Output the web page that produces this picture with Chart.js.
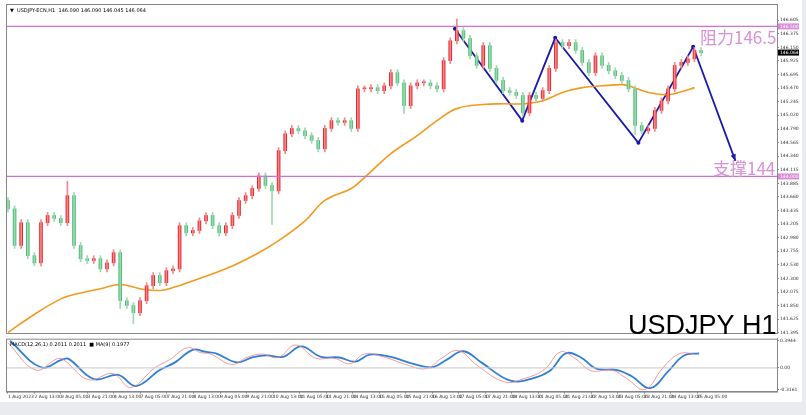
<!DOCTYPE html>
<html><head><meta charset="utf-8">
<script src="https://cdn.jsdelivr.net/npm/chart.js@4.4.0/dist/chart.umd.min.js"></script>
<style>
body{margin:0;background:#e9ebef;width:806px;height:415px;overflow:hidden;font-family:"DejaVu Sans",sans-serif}
#wrap{position:absolute;left:0;top:0;width:802px;height:402px;background:#fff}
canvas{position:absolute;left:0}
</style></head><body>
<div id="wrap">
<canvas id="main" style="top:0px" width="802" height="337"></canvas>
<canvas id="macd" style="top:335px" width="802" height="66"></canvas>
</div>
<script>
// 4-hour closes
const closes=[143.46,142.85,143.23,142.68,142.56,143.23,143.35,143.30,143.23,143.68,142.85,142.63,142.60,142.63,142.46,142.56,142.73,141.93,141.85,141.73,141.93,142.18,142.35,142.23,142.43,142.46,143.18,143.06,143.10,143.26,143.35,143.18,143.06,143.18,143.35,143.60,143.68,143.80,144.01,143.85,143.76,144.43,144.71,144.80,144.76,144.68,144.60,144.46,144.80,144.93,144.90,144.93,144.80,145.46,145.46,145.48,145.43,145.51,145.73,145.56,145.18,145.51,145.56,145.56,145.51,145.46,145.93,146.26,146.43,146.30,146.01,145.85,146.18,145.80,145.60,145.43,145.40,145.35,145.06,145.35,145.30,145.43,145.80,146.23,146.18,146.23,146.10,145.90,145.73,146.01,145.85,145.76,145.68,145.60,145.46,144.85,144.76,144.80,145.10,145.26,145.46,145.85,145.90,145.96,146.10,146.06];
const firstOpen=143.60;
const wickSpikes={9:[143.92,null],19:[null,141.55],40:[null,143.20],68:[146.62,null],17:[null,141.80],60:[null,145.05],95:[null,144.70]};
const maIdx=[0,3,8,11,14,17,20,23,25,29,34,38,41,45,48,52,54,58,62,65,68,72,75,78,81,84,87,90,93,94,97,100,102,104];
const maVal=[141.40,141.63,141.96,142.06,142.13,142.20,142.13,142.10,142.15,142.30,142.51,142.73,142.93,143.26,143.60,143.80,143.98,144.38,144.68,144.93,145.13,145.20,145.21,145.21,145.26,145.40,145.48,145.51,145.53,145.51,145.40,145.36,145.41,145.48];
const zigIdx=[67.7,77.9,82.9,95.5,103.8,110.2];
const zigVal=[146.46,144.93,146.31,144.56,146.16,144.26];
const resistance=146.5, support=144.0, lastPrice=146.064;
const yTicks=[146.605,146.375,146.150,145.925,145.695,145.470,145.245,145.020,144.790,144.565,144.340,144.115,143.885,143.660,143.435,143.205,142.980,142.755,142.530,142.300,142.075,141.850,141.625,141.395];
const xLabels=["1 Aug 2023","2 Aug 13:00","3 Aug 05:00","3 Aug 21:00","4 Aug 13:00","7 Aug 05:00","7 Aug 21:00","8 Aug 13:00","9 Aug 05:00","9 Aug 21:00","10 Aug 13:00","11 Aug 05:00","11 Aug 21:00","14 Aug 13:00","15 Aug 05:00","15 Aug 21:00","16 Aug 13:00","17 Aug 05:00","17 Aug 21:00","18 Aug 13:00","21 Aug 05:00","21 Aug 21:00","22 Aug 13:00","23 Aug 05:00","23 Aug 21:00","24 Aug 13:00","25 Aug 05:00"];
const macdIdx=[0.3,5,8.2,9.2,13,16.7,19.4,23,25.3,28,30,31.5,34.7,37,39.2,41.7,44.4,47.4,50.2,52.6,54.8,58,61,64.2,66.5,69,71.7,76,79.1,82.1,84.5,86.8,89.1,92.3,94.5,97.3,100,102.4,104.7];
const macdBlue=[.39,.01,.12,.13,-.16,-.10,-.26,-.03,.08,.26,.23,.21,.08,.15,.18,.16,.31,.16,.15,.09,.19,.16,.07,.01,.12,.24,.08,-.18,-.16,-.04,.21,.15,-.01,-.03,-.12,-.29,-.05,.18,.21];
const macdRed=[.36,-.03,.13,.12,-.17,-.08,-.28,0,.12,.29,.22,.2,.05,.15,.2,.15,.33,.14,.14,.06,.2,.15,.05,-.01,.14,.25,.05,-.2,-.15,-.02,.23,.13,-.04,-.03,-.15,-.31,0,.2,.21];

const XMIN=-0.3, XMAX=116.5;
const bodies=[], wicks=[];
closes.forEach((c,i)=>{
  const o=i?closes[i-1]:firstOpen;
  let hi=Math.max(o,c)+0.05, lo=Math.min(o,c)-0.05;
  const s=wickSpikes[i]; if(s){ if(s[0]!=null)hi=s[0]; if(s[1]!=null)lo=s[1]; }
  bodies.push({x:i,y:[o,c],up:c>=o});
  wicks.push({x:i,y:[lo,hi],up:c>=o});
});
const pink='#d98ad9';
const lineDs=(v)=>({type:'line',data:[{x:XMIN,y:v},{x:XMAX,y:v}],borderColor:'#d070d0',borderWidth:1.2,pointRadius:0});
const fit=w=>function(s){s.width=w;};

const overlay={id:'ov',afterDraw(ch){
  const c=ch.ctx,y=ch.scales.y,a=ch.chartArea;
  c.save();
  c.strokeStyle='#888';c.lineWidth=1;c.strokeRect(a.left+0.5,a.top+0.5,a.right-a.left,a.bottom-a.top);
  const box=(v,bg,fg)=>{const py=y.getPixelForValue(v);c.fillStyle=bg;c.fillRect(a.right+1,py-3,21,6);c.fillStyle=fg;c.font='4.5px DejaVu Sans';c.textBaseline='middle';c.fillText(v.toFixed(3),a.right+3,py);};
  box(resistance,pink,'#fff');box(support,pink,'#fff');box(lastPrice,'#000','#fff');
  c.fillStyle='#d890d8';c.font='17px "Noto Sans CJK SC"';c.textBaseline='alphabetic';
  c.fillText('阻力146.5',700,44);c.fillText('支撑144',713,175);
  c.fillStyle='#000';c.font='27px "Liberation Sans"';c.fillText('USDJPY H1',628,334);
  c.font='5px DejaVu Sans';c.fillStyle='#000';c.fillText('▼  USDJPY-ECN,H1  146.090 146.090 146.045 146.064',10,12);
  const x=ch.scales.x;const n=zigIdx.length;
  const x1=x.getPixelForValue(zigIdx[n-2]),y1=y.getPixelForValue(zigVal[n-2]),x2=x.getPixelForValue(zigIdx[n-1]),y2=y.getPixelForValue(zigVal[n-1]);
  const ang=Math.atan2(y2-y1,x2-x1);c.fillStyle='#1a1aa8';c.beginPath();c.moveTo(x2,y2);
  c.lineTo(x2-7*Math.cos(ang-0.4),y2-7*Math.sin(ang-0.4));c.lineTo(x2-7*Math.cos(ang+0.4),y2-7*Math.sin(ang+0.4));c.fill();
  c.restore();
}};

new Chart(document.getElementById('main'),{
  data:{datasets:[
    lineDs(resistance),lineDs(support),
    {type:'bar',data:wicks,barThickness:1,grouped:false,backgroundColor:c=>c.raw&&c.raw.up?'#f08a8a':'#9fd8b0'},
    {type:'bar',data:bodies,barThickness:3,grouped:false,minBarLength:1,backgroundColor:c=>c.raw&&c.raw.up?'#e8262d':'#4fbf7a'},
    {type:'line',data:maIdx.map((v,i)=>({x:v,y:maVal[i]})),borderColor:'#f39a1e',borderWidth:1.6,pointRadius:0,tension:0.4},
    {type:'line',data:zigIdx.map((v,i)=>({x:v,y:zigVal[i]})),borderColor:'#1a1aa8',borderWidth:1.8,pointRadius:c=>c.dataIndex<zigIdx.length-1?2:0,pointBackgroundColor:'#1a1aa8',pointBorderWidth:0}
  ]},
  options:{animation:false,responsive:false,events:[],
    layout:{padding:{left:6,top:4,bottom:1,right:0}},
    plugins:{legend:{display:false},tooltip:{enabled:false}},
    scales:{
      x:{type:'linear',min:XMIN,max:XMAX,offset:false,display:false},
      y:{position:'right',min:141.392,max:146.873,afterFit:fit(25),
        afterBuildTicks:s=>{s.ticks=yTicks.map(v=>({value:v}));},
        grid:{drawOnChartArea:false,tickLength:2,color:'#888'},border:{color:'#888'},
        ticks:{font:{size:4.5,family:'DejaVu Sans'},color:'#333',padding:1,callback:v=>v.toFixed(3)}}
    }},
  plugins:[overlay]
});

const ov2={id:'ov2',afterDraw(ch){const c=ch.ctx,a=ch.chartArea;c.save();c.strokeStyle='#888';c.strokeRect(a.left+0.5,a.top+0.5,a.right-a.left,a.bottom-a.top);
  c.font='5px DejaVu Sans';c.fillStyle='#000';c.fillText('MACD(12,26,1) 0.2011 0.2011  \u25A0 MA(9) 0.1977',10,a.top+7);c.restore();}};
new Chart(document.getElementById('macd'),{
  type:'line',
  data:{datasets:[
    {data:[{x:XMIN,y:0},{x:XMAX,y:0}],borderColor:'#c8c8c8',borderWidth:1,pointRadius:0},
    {data:macdIdx.map((v,i)=>({x:Math.max(0,v-0.8),y:macdRed[i]})),borderColor:'#f08080',borderWidth:0.8,pointRadius:0,tension:0.4},
    {data:macdIdx.map((v,i)=>({x:v,y:macdBlue[i]})),borderColor:'#2f7fd8',borderWidth:1.8,pointRadius:0,tension:0.4}
  ]},
  options:{animation:false,responsive:false,events:[],
    layout:{padding:{left:6,top:2,right:0,bottom:0}},
    plugins:{legend:{display:false},tooltip:{enabled:false}},
    scales:{
      x:{type:'linear',min:XMIN,max:XMAX,offset:false,afterBuildTicks:s=>{s.ticks=xLabels.map((l,k)=>({value:k*4.015}));},
        grid:{drawOnChartArea:false,tickLength:2,color:'#888'},border:{color:'#888'},
        ticks:{font:{size:4.5,family:'DejaVu Sans'},color:'#333',maxRotation:0,autoSkip:false,padding:1,align:'start',
          callback:(v,k)=>xLabels[k]}},
      y:{position:'right',min:-0.34,max:0.42,afterFit:fit(25),
        afterBuildTicks:s=>{s.ticks=[{value:0.3944},{value:0},{value:-0.3161}];},
        grid:{drawOnChartArea:false,tickLength:2,color:'#888'},border:{color:'#888'},
        ticks:{font:{size:4.5,family:'DejaVu Sans'},color:'#333',padding:1,callback:v=>v===0?'0.00':v.toFixed(4)}}
    }},
  plugins:[ov2]
});
</script></body></html>
